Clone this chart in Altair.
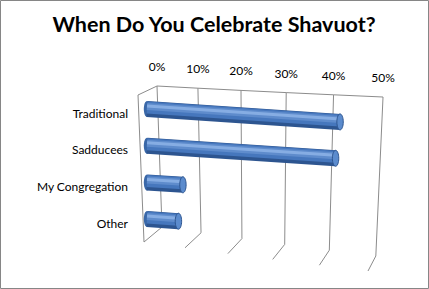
import altair as alt
import pandas as pd

# ---------------- data ----------------
title_text = "When Do You Celebrate Shavuot?"
categories = ["Traditional", "Sadducees", "My Congregation", "Other"]
values = [43, 42, 8, 7]          # percent
ticks = [0, 10, 20, 30, 40, 50]  # percent
tick_labels = ["0%", "10%", "20%", "30%", "40%", "50%"]

bars_df = pd.DataFrame({
    "category": categories,
    "value": values,
    "row": list(range(len(categories))),
})
ticks_df = pd.DataFrame({"t": ticks, "label": tick_labels})
title_df = pd.DataFrame({"title": [title_text]})
one_df = pd.DataFrame({"a": [0]})

# ---------------- styles ----------------
W, H = 429, 289
GRID = "#8c8c8c"
FONT = "Lato"
SLANT = 0.3 / 36.7  # rows per percent (3D perspective tilt)

# ---------------- frame (3D walls, perspective gridlines) ----------------
frame_base = alt.Chart(ticks_df).transform_calculate(
    btx="157 + 3.987*datum.t + 0.01067*datum.t*datum.t",
    bty="86 + 0.22*datum.t",
    bbx="162 + 3.81*datum.t + 0.00933*datum.t*datum.t",
    bby="227 + 0.58*datum.t",
    fbx="144 + 4.005*datum.t + 0.0095*datum.t*datum.t",
    fby="242 + 0.58*datum.t",
    ftx="datum.btx - 19",
    fty="datum.bty + 9",
)

back_grid = frame_base.mark_rule(color=GRID, strokeWidth=1).encode(
    x=alt.X("btx:Q", scale=None, axis=None),
    y=alt.Y("bty:Q", scale=None, axis=None),
    x2="bbx:Q",
    y2="bby:Q",
)
floor_grid = frame_base.mark_rule(color=GRID, strokeWidth=1).encode(
    x=alt.X("bbx:Q", scale=None, axis=None),
    y=alt.Y("bby:Q", scale=None, axis=None),
    x2="fbx:Q",
    y2="fby:Q",
)
top_edge = frame_base.mark_line(color=GRID, strokeWidth=1).encode(
    x=alt.X("btx:Q", scale=None, axis=None),
    y=alt.Y("bty:Q", scale=None, axis=None),
    order="t:Q",
)
wall_front = frame_base.transform_filter("datum.t == 0").mark_rule(
    color=GRID, strokeWidth=1
).encode(
    x=alt.X("ftx:Q", scale=None, axis=None),
    y=alt.Y("fty:Q", scale=None, axis=None),
    x2="fbx:Q",
    y2="fby:Q",
)
wall_top = frame_base.transform_filter("datum.t == 0").mark_rule(
    color=GRID, strokeWidth=1
).encode(
    x=alt.X("ftx:Q", scale=None, axis=None),
    y=alt.Y("fty:Q", scale=None, axis=None),
    x2="btx:Q",
    y2="bty:Q",
)
tick_text = frame_base.mark_text(
    font=FONT, fontSize=12, color="black", baseline="middle", align="center", dy=-19
).encode(
    x=alt.X("btx:Q", scale=None, axis=None),
    y=alt.Y("bty:Q", scale=None, axis=None),
    text="label:N",
)

border = alt.Chart(one_df).mark_rect(
    fillOpacity=0, stroke="#868686", strokeWidth=1
).encode(
    x=alt.value(0.5), x2=alt.value(W - 0.5), y=alt.value(0.5), y2=alt.value(H - 0.5)
)
title = alt.Chart(title_df).mark_text(
    font=FONT, fontSize=21.5, fontWeight="bold", color="black",
    align="center", baseline="middle",
).encode(x=alt.value(214), y=alt.value(26), text="title:N")

frame = alt.layer(border, title, wall_front, wall_top, back_grid, floor_grid, top_edge, tick_text)

# ---------------- bars (cylinders) ----------------
xs = alt.Scale(domain=[0, 50], range=[147, 371.5], nice=False, zero=False)
ys = alt.Scale(domain=[0, 3], range=[109, 219.1], nice=False, zero=False)

line_base = alt.Chart(bars_df).transform_calculate(
    zero="0"
).transform_fold(
    ["zero", "value"], as_=["end", "v"]
).transform_calculate(
    yy=f"datum.row + toNumber(datum.v)*{SLANT}"
)

def cyl_layer(width, color, yoff):
    return line_base.mark_line(
        strokeWidth=width, color=color, strokeCap="butt", yOffset=yoff
    ).encode(
        x=alt.X("v:Q", scale=xs, axis=None),
        y=alt.Y("yy:Q", scale=ys, axis=None),
        detail="category:N",
        order="v:Q",
    )

ELLIPSE = "M 0 -1 A 0.4 1 0 1 1 0 1 A 0.4 1 0 1 1 0 -1 Z"

left_cap = alt.Chart(bars_df).transform_calculate(zero="0").mark_point(
    shape=ELLIPSE, size=256, filled=True, fill="#3a68a8", opacity=1, strokeWidth=0
).encode(
    x=alt.X("zero:Q", scale=xs, axis=None),
    y=alt.Y("row:Q", scale=ys, axis=None),
)
right_cap = alt.Chart(bars_df).transform_calculate(
    yy=f"datum.row + datum.value*{SLANT}"
).mark_point(
    shape=ELLIPSE, size=256, filled=True, fill="#5b8bcd", stroke="#2d5590",
    strokeWidth=1, opacity=1
).encode(
    x=alt.X("value:Q", scale=xs, axis=None),
    y=alt.Y("yy:Q", scale=ys, axis=None),
)
cat_labels = alt.Chart(bars_df).mark_text(
    font=FONT, fontSize=12, color="black", align="right", baseline="middle", dy=4.5
).encode(
    x=alt.value(128),
    y=alt.Y("row:Q", scale=ys, axis=None),
    text="category:N",
)

bars = alt.layer(
    left_cap,
    cyl_layer(16, "#2d5590", 0),
    cyl_layer(12, "#4677bd", -1.5),
    cyl_layer(7, "#5f8ccc", -2.5),
    cyl_layer(3, "#86ade3", -3),
    right_cap,
    cat_labels,
)

chart = alt.layer(frame, bars).resolve_scale(
    x="independent", y="independent"
).properties(
    width=W, height=H, padding=0,
    autosize=alt.AutoSizeParams(type="none"),
    background="white",
).configure_view(stroke=None)

chart.save("out.html", embed_options={"renderer": "svg", "actions": False})
